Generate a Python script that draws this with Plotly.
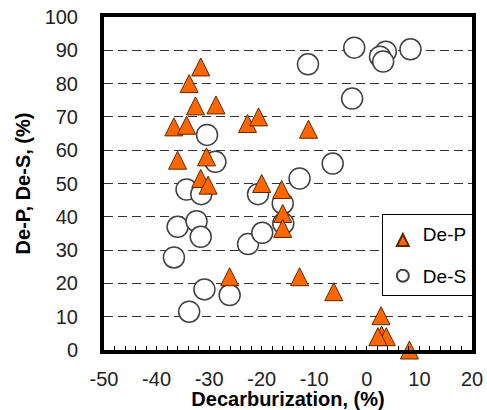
import plotly.graph_objects as go

# De-P series (triangles)
dep_x = [-31.6, -33.8, -32.6, -28.7, -36.7, -34.3, -22.7, -20.6, -36.0, -30.5,
         -31.6, -30.2, -20.0, -16.2, -16.0, -16.0, -11.1, -26.1, -12.8, -6.3,
         2.7, 2.8, 3.7, 2.1, 8.1]
dep_y = [85, 80, 73.3, 73.6, 67, 67.5, 68, 70, 57, 58,
         51.5, 49.5, 50, 48.2, 41, 36.5, 66.3, 22, 22, 17.5,
         10.3, 4.5, 4, 4, 0]

# De-S series (circles)
des_x = [-30.4, -28.8, -34.3, -31.5, -20.7, -36.0, -32.4, -31.6, -36.7, -22.6,
         -19.9, -30.9, -26.1, -33.8, -2.4, -11.2, 3.6, 2.5, 3.1, 8.3,
         -2.8, -6.5, -12.8, -16.0, -15.9]
des_y = [64.6, 56.5, 48.2, 46.8, 46.8, 37, 38.7, 34, 27.8, 31.8,
         35.2, 18.2, 16.5, 11.5, 90.8, 85.8, 89.6, 88.1, 86.6, 90.3,
         75.5, 56, 51.5, 44, 38]

x_ticks = [-50, -40, -30, -20, -10, 0, 10, 20]
y_ticks = [0, 10, 20, 30, 40, 50, 60, 70, 80, 90, 100]

FONT = "Liberation Sans, Arial, sans-serif"

TRI_SIZE = 18
PLOT_H = 410 - 17 - 60
# the arrow-up symbol has its apex on the data point; an overlaid hidden axis
# shifted by half the marker height centres the triangle on the value
shift = (TRI_SIZE / 2) * 100.0 / PLOT_H

fig = go.Figure()
fig.add_trace(go.Scatter(
    x=dep_x, y=dep_y, mode="markers", name="De-P", legendgroup="a",
    yaxis="y2", cliponaxis=False,
    marker=dict(symbol="arrow-up", size=TRI_SIZE, color="#FF6600",
                line=dict(color="#5a2a00", width=1)),
))
fig.add_trace(go.Scatter(
    x=des_x, y=des_y, mode="markers", name="De-S", legendgroup="b",
    cliponaxis=False,
    marker=dict(symbol="circle", size=21, color="white",
                line=dict(color="#404040", width=1.5)),
))

fig.update_layout(
    width=487, height=410,
    margin=dict(l=104, r=15, t=17, b=60, autoexpand=False),
    paper_bgcolor="white", plot_bgcolor="white",
    font=dict(family=FONT, size=20, color="black"),
    showlegend=True,
    legend=dict(
        x=0.755, y=0.408, xanchor="left", yanchor="top",
        bgcolor="white", bordercolor="black", borderwidth=1,
        font=dict(size=19), itemsizing="constant",
        traceorder="grouped", tracegroupgap=14,
    ),
    yaxis2=dict(overlaying="y", range=[0 - shift, 100 - shift], visible=False,
                showgrid=False, zeroline=False, automargin=False),
)
fig.layout.xaxis.update(
    range=[-50, 20], tickvals=x_ticks, ticktext=[str(v) for v in x_ticks],
    showgrid=False, zeroline=False, automargin=False,
    showline=True, linewidth=4, linecolor="black", mirror=True,
    ticks="inside", ticklen=4, tickcolor="black", tickwidth=1,
    minor=dict(dtick=2, ticks="inside", ticklen=4, tickcolor="black", tickwidth=1, showgrid=False),
    ticklabelstandoff=8,
    tickfont=dict(size=20, color="#222"),
    title=dict(text="<b>Decarburization, (%)</b>", font=dict(size=20), standoff=5),
)
fig.layout.yaxis.update(
    range=[0, 100], tickvals=y_ticks, ticktext=[str(v) for v in y_ticks],
    showgrid=True, gridcolor="#333", gridwidth=1.3, griddash="9px,5px",
    zeroline=False, automargin=False,
    showline=True, linewidth=4, linecolor="black", mirror=True,
    ticks="", ticklabelstandoff=18,
    tickfont=dict(size=20, color="#222"),
    title=dict(text="<b>De-P, De-S, (%)</b>", font=dict(size=20), standoff=10),
)

fig.write_html("out.html")
